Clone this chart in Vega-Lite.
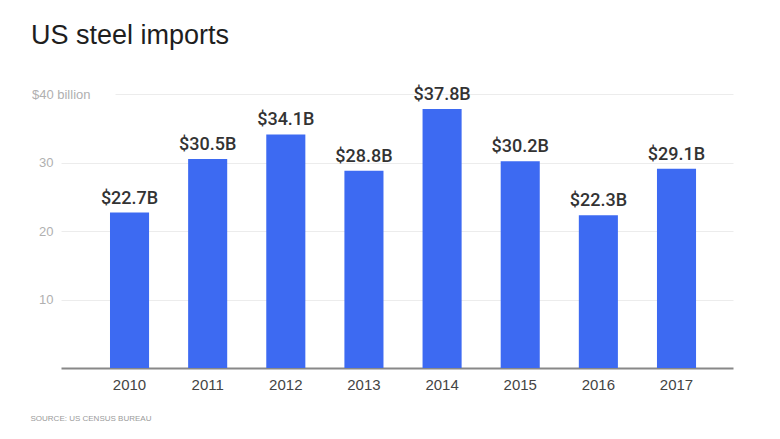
{
  "$schema": "https://vega.github.io/schema/vega-lite/v6.json",
  "autosize": {"type": "none"},
  "padding": {"left": 61, "top": 94, "right": 47, "bottom": 71},
  "width": 672,
  "height": 274,
  "background": "white",
  "title": {
    "text": "US steel imports",
    "anchor": "start",
    "frame": "group",
    "dx": -30,
    "offset": 36,
    "font": "Liberation Sans",
    "fontSize": 27,
    "fontWeight": "normal",
    "color": "#1e1e1e"
  },
  "data": {
    "values": [
      {"year": "2010", "value": 22.7, "label": "$22.7B"},
      {"year": "2011", "value": 30.5, "label": "$30.5B"},
      {"year": "2012", "value": 34.1, "label": "$34.1B"},
      {"year": "2013", "value": 28.8, "label": "$28.8B"},
      {"year": "2014", "value": 37.8, "label": "$37.8B"},
      {"year": "2015", "value": 30.2, "label": "$30.2B"},
      {"year": "2016", "value": 22.3, "label": "$22.3B"},
      {"year": "2017", "value": 29.1, "label": "$29.1B"}
    ]
  },
  "encoding": {
    "x": {
      "field": "year",
      "type": "ordinal",
      "scale": {"paddingInner": 0.5, "paddingOuter": 0.55, "align": 0.57},
      "axis": {
        "title": "SOURCE: US CENSUS BUREAU",
        "titleAnchor": "start",
        "titleAlign": "left",
        "titleBaseline": "middle",
        "titleX": -31,
        "titleY": 50,
        "titleFont": "Liberation Sans",
        "titleFontSize": 8,
        "titleFontWeight": "normal",
        "titleColor": "#9a9a9a",
        "labelAngle": 0,
        "labelFont": "Liberation Sans",
        "labelFontSize": 15,
        "labelColor": "#444444",
        "labelPadding": 9,
        "ticks": false,
        "domainColor": "#888888",
        "domainWidth": 2
      }
    },
    "y": {
      "field": "value",
      "type": "quantitative",
      "scale": {"domain": [0, 40], "nice": false},
      "axis": {
        "title": null,
        "values": [10, 20, 30, 40],
        "labelExpr": "datum.value == 40 ? '$40 billion' : datum.label",
        "labelFont": "Liberation Sans",
        "labelFontSize": 13,
        "labelColor": "#b0b0b0",
        "labelPadding": {"condition": {"test": "datum.value == 40", "value": -29}, "value": 8},
        "ticks": false,
        "domain": false,
        "grid": true,
        "gridColor": "#ececec",
        "gridWidth": 1,
        "gridDash": {"condition": {"test": "datum.value == 40", "value": [0, 54, 1000, 0]}, "value": []}
      }
    }
  },
  "layer": [
    {"mark": {"type": "bar", "color": "#3d6af2"}},
    {
      "mark": {
        "type": "text",
        "baseline": "alphabetic",
        "dy": -9,
        "font": "Roboto",
        "fontWeight": 500,
        "fontSize": 18,
        "color": "#333333"
      },
      "encoding": {"text": {"field": "label"}}
    }
  ],
  "config": {"view": {"stroke": null}}
}
